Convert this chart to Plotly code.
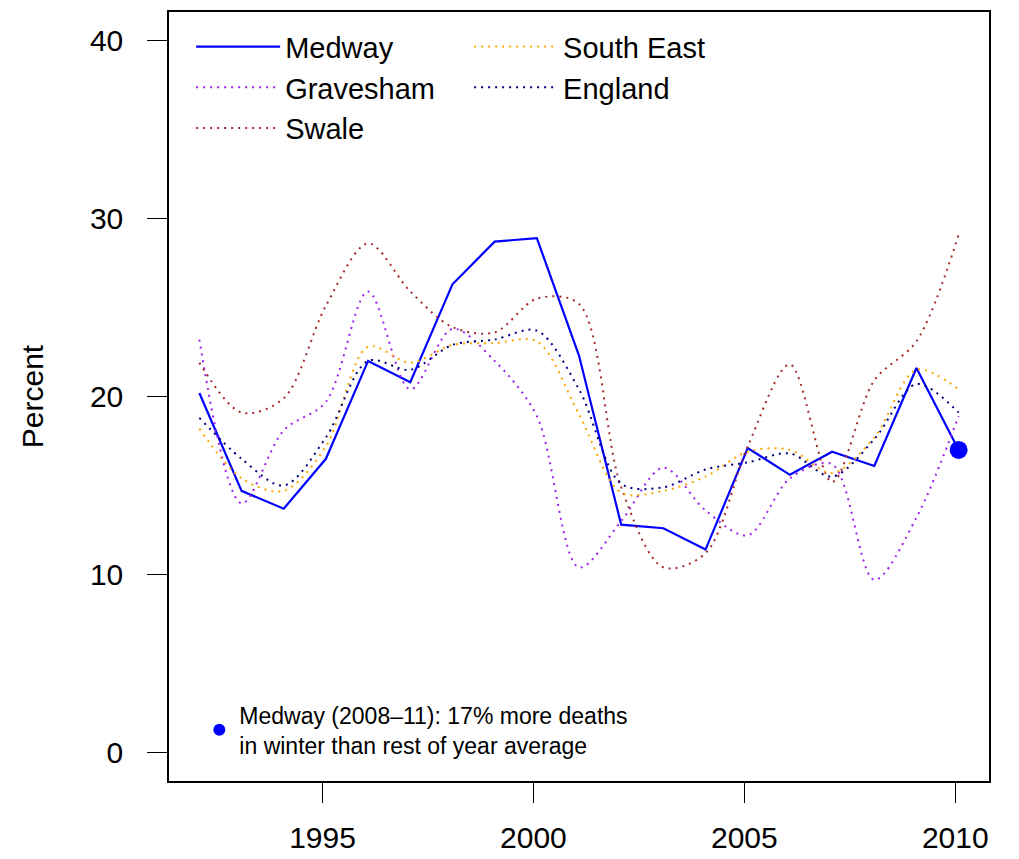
import plotly.graph_objects as go

years = list(range(1992, 2011))
medway =     [20.2, 14.7, 13.7, 16.5, 22.0, 20.8, 26.3, 28.7, 28.9, 22.3, 12.8, 12.6, 11.4, 17.1, 15.6, 16.9, 16.1, 21.6, 17.0]
gravesham =  [23.2, 14.0, 18.1, 19.7, 25.9, 20.4, 23.8, 22.0, 18.9, 10.4, 13.0, 16.0, 13.6, 12.2, 15.4, 16.2,  9.7, 13.2, 18.9]
swale =      [21.9, 19.1, 19.9, 25.1, 28.6, 25.9, 23.9, 23.6, 25.5, 25.2, 14.9, 10.4, 11.2, 17.2, 21.8, 15.2, 20.9, 23.1, 29.1]
south_east = [18.2, 15.4, 14.7, 17.2, 22.8, 21.9, 22.9, 23.0, 23.1, 19.0, 14.6, 14.7, 15.5, 16.9, 17.0, 15.7, 17.7, 21.5, 20.4]
england =    [18.8, 16.5, 15.0, 17.7, 22.0, 21.5, 22.9, 23.2, 23.7, 20.4, 15.1, 14.9, 15.9, 16.3, 16.8, 15.5, 17.6, 20.7, 19.1]
note = "Medway (2008\u201311): 17% more deaths<br>in winter than rest of year average"
x_ticks = [1995, 2000, 2005, 2010]
y_ticks = [0, 10, 20, 30, 40]

offset = 0.08
xs = [y + offset for y in years]

FONT = "Liberation Sans, Arial, Helvetica, sans-serif"

fig = go.Figure()

series = [
    ("Medway", medway, "#0000FF", "solid", 2.2, "legend", 1),
    ("Gravesham", gravesham, "#A020F0", "2px,5px", 2, "legend", 2),
    ("Swale", swale, "#A52A2A", "2px,5px", 2, "legend", 3),
    ("South East", south_east, "#FFA500", "2px,5px", 2, "legend2", 1),
    ("England", england, "#000080", "2px,5px", 2, "legend2", 2),
]
for name, vals, col, dash, w, leg, rank in series:
    fig.add_trace(go.Scatter(
        x=xs, y=vals, mode="lines", name=name,
        line=dict(color=col, dash=dash, width=w,
                  shape="linear" if dash == "solid" else "spline", smoothing=0.9),
        legend=leg, legendrank=rank, hoverinfo="skip",
    ))

fig.add_trace(go.Scatter(
    x=[xs[-1]], y=[medway[-1]], mode="markers", name=note,
    marker=dict(color="#0000FF", size=18), legend="legend3", hoverinfo="skip",
))

span = xs[-1] - xs[0]
xr = [xs[0] - 0.04 * span, xs[-1] + 0.04 * span]
yr = [-1.6, 41.6]

legfont = dict(family=FONT, size=29, color="black")
fig.update_layout(
    width=1019, height=859,
    margin=dict(l=169, r=30, t=12, b=78),
    paper_bgcolor="white", plot_bgcolor="white",
    font=dict(family=FONT, size=30, color="black"),
    xaxis=dict(range=xr, tickvals=x_ticks, ticks="outside", ticklen=20, tickwidth=1,
               tickcolor="black", showgrid=False, zeroline=False, showline=True,
               linecolor="black", linewidth=1.5, mirror=True, ticklabelstandoff=9,
               tickfont=dict(size=30), automargin=False),
    yaxis=dict(range=yr, tickvals=y_ticks, ticks="outside", ticklen=20, tickwidth=1,
               tickcolor="black", showgrid=False, zeroline=False, showline=True,
               linecolor="black", linewidth=1.5, mirror=True, ticklabelstandoff=18,
               tickfont=dict(size=30), automargin=False,
               title=dict(text="Percent", font=dict(size=30), standoff=37)),
    legend=dict(x=0.027, y=0.988, xanchor="left", yanchor="top", bgcolor="rgba(0,0,0,0)",
                font=legfont, itemwidth=84, tracegroupgap=0, traceorder="normal"),
    legend2=dict(x=0.366, y=0.988, xanchor="left", yanchor="top", bgcolor="rgba(0,0,0,0)",
                 font=legfont, itemwidth=84, tracegroupgap=0, traceorder="normal"),
    legend3=dict(x=0.037, y=0.019, xanchor="left", yanchor="bottom", bgcolor="rgba(0,0,0,0)",
                 font=dict(family=FONT, size=23, color="black"), itemsizing="constant",
                 itemwidth=30),
    showlegend=True,
)

fig.write_html("out.html", config={"displayModeBar": False},
               post_script="document.body.style.margin='0px';")
